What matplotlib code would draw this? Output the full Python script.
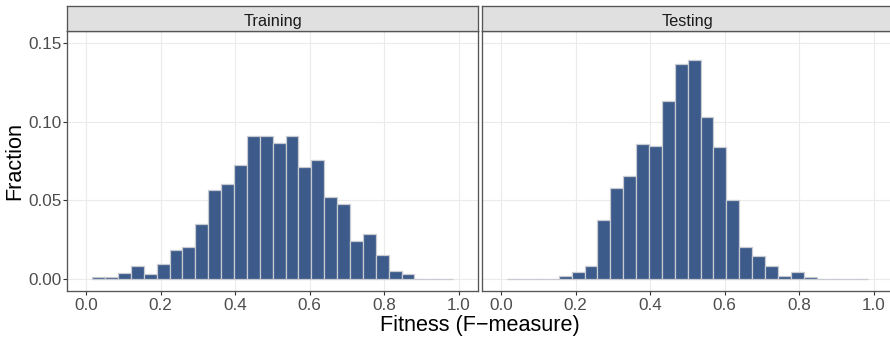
import numpy as np
import matplotlib
matplotlib.use("Agg")
import matplotlib.pyplot as plt

plt.rcParams['font.family'] = ['Liberation Sans', 'DejaVu Sans']

# Histogram bins shared by both facets (28 equal-width bins)
bin_lo, bin_hi, n_bins = 0.017, 0.984, 28

panels = ["Training", "Testing"]

training_frac = [0.0015, 0.0015, 0.0044, 0.0084, 0.0034, 0.0095, 0.0184,
                 0.0205, 0.0354, 0.0565, 0.0605, 0.0726, 0.0907, 0.0907,
                 0.0865, 0.0907, 0.0715, 0.0755, 0.0525, 0.0475, 0.0245,
                 0.0285, 0.0154, 0.0053, 0.0034, 0.0004, 0.0002, 0.0002]

testing_frac = [0.0002, 0.0002, 0.0006, 0.0006, 0.0025, 0.0046, 0.0084,
                0.0378, 0.0578, 0.0656, 0.0857, 0.0846, 0.1127, 0.1367,
                0.1388, 0.1027, 0.0838, 0.0506, 0.0205, 0.0146, 0.0084,
                0.0025, 0.0046, 0.0015, 0.0006, 0.0006, 0.0001, 0.0001]

x_ticks = [0.0, 0.2, 0.4, 0.6, 0.8, 1.0]
x_tick_labels = ["0.0", "0.2", "0.4", "0.6", "0.8", "1.0"]
y_ticks = [0.00, 0.05, 0.10, 0.15]
y_tick_labels = ["0.00", "0.05", "0.10", "0.15"]

x_label = "Fitness (F\u2212measure)"
y_label = "Fraction"

W, H = 890, 339
fig = plt.figure(figsize=(W / 100, H / 100), dpi=100)


def px_box(left, top, right, bottom):
    return [left / W, (H - bottom) / H, (right - left) / W, (bottom - top) / H]


bar_color = "#3C5A8A"
edge_color = "#C9CBD2"
border_color = "#555555"
grid_color = "#EBEBEB"
tick_text = "#4D4D4D"

edges = np.linspace(bin_lo, bin_hi, n_bins + 1)
series = [training_frac, testing_frac]
lefts_px = [67.3, 482.3]
panel_w = 410.4

for i, (name, vals) in enumerate(zip(panels, series)):
    l = lefts_px[i]
    ax = fig.add_axes(px_box(l, 30.7, l + panel_w, 291.3))
    ax.bar(edges[:-1], vals, width=np.diff(edges), align="edge",
           color=bar_color, edgecolor=edge_color, linewidth=0.9, zorder=3)
    ax.set_xlim(-0.05, 1.05)
    ax.set_ylim(-0.0075, 0.1575)
    ax.set_xticks(x_ticks)
    ax.set_xticklabels(x_tick_labels)
    ax.set_yticks(y_ticks)
    ax.grid(True, color=grid_color, linewidth=0.8, zorder=0)
    ax.set_axisbelow(True)
    ax.tick_params(axis="both", direction="out", length=2.9, width=0.8,
                   color="#333333", labelcolor=tick_text, labelsize=12.3)
    ax.tick_params(axis="y", pad=1.0)
    ax.tick_params(axis="x", pad=1.6)
    if i == 0:
        ax.set_yticklabels(y_tick_labels)
    else:
        ax.set_yticklabels([])
        ax.tick_params(axis="y", length=0, width=0)
    for s in ax.spines.values():
        s.set_color(border_color)
        s.set_linewidth(0.95)
        s.set_zorder(5)

    # facet strip
    sax = fig.add_axes(px_box(l, 6.3, l + panel_w, 30.7))
    sax.set_facecolor("#E0E0E0")
    sax.set_xticks([])
    sax.set_yticks([])
    for s in sax.spines.values():
        s.set_color(border_color)
        s.set_linewidth(0.95)
    sax.text(0.5, 0.21, name, transform=sax.transAxes, ha="center",
             va="baseline", fontsize=11.8, color="#1A1A1A")

fig.text(480 / W, (H - 330.7) / H, x_label, ha="center", va="baseline",
         fontsize=15.6, color="black")
fig.text(20.7 / W, (H - 160.5) / H, y_label, ha="center", va="baseline",
         rotation=90, rotation_mode="anchor", fontsize=15.6, color="black")

fig.savefig("out.png", dpi=100)
